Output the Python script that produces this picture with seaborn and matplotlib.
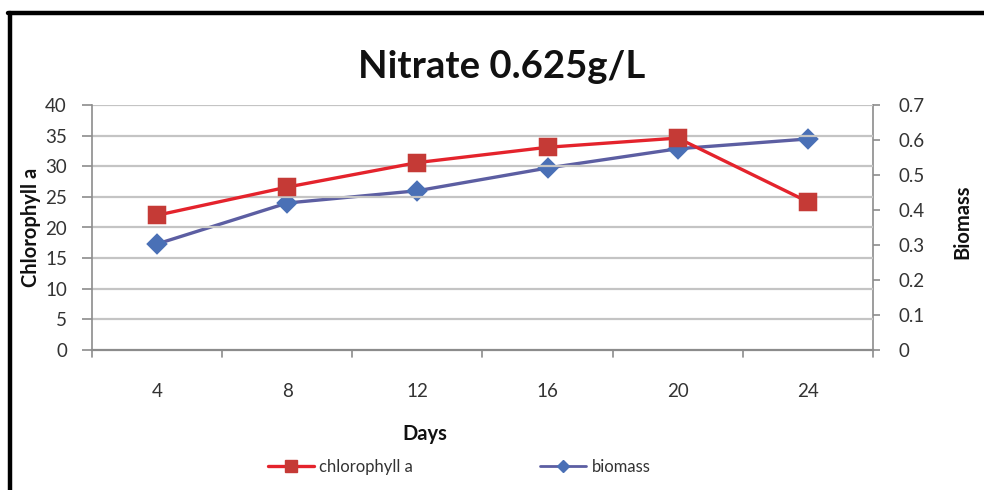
import matplotlib
matplotlib.use("Agg")
import matplotlib.pyplot as plt
from matplotlib.lines import Line2D
import seaborn as sns
import pandas as pd

days = ["4", "8", "12", "16", "20", "24"]
chlorophyll = [22.0, 26.6, 30.6, 33.1, 34.6, 24.2]
biomass = [0.303, 0.420, 0.455, 0.520, 0.575, 0.603]
left_ticks = [0, 5, 10, 15, 20, 25, 30, 35, 40]
right_ticks = [0, 0.1, 0.2, 0.3, 0.4, 0.5, 0.6, 0.7]
right_labels = ["0", "0.1", "0.2", "0.3", "0.4", "0.5", "0.6", "0.7"]

sns.set_theme(style="white")
plt.rcParams["font.family"] = ["Lato", "DejaVu Sans"]

df = pd.DataFrame({"Days": days, "chlorophyll a": chlorophyll, "biomass": biomass})

RED_LINE = "#e4232c"
RED_MARK = "#c53a36"
BLUE_LINE = "#5c5ea2"
BLUE_MARK = "#4a70b6"
AXIS = "#8c8c8c"
GRID = "#c4c4c4"
TXT = "#333333"

fig = plt.figure(figsize=(9.84, 4.9), dpi=100)
fig.patch.set_facecolor("white")
ax = fig.add_axes([92 / 984, 1 - 350 / 490, (873 - 92) / 984, (350 - 105) / 490])
ax2 = ax.twinx()

sns.pointplot(data=df, x="Days", y="chlorophyll a", order=days, ax=ax,
              color=RED_LINE, markers="s", linestyles="-", errorbar=None,
              markersize=12, linewidth=2.4, zorder=3)
for ln in ax.lines:
    ln.set_markerfacecolor(RED_MARK)
    ln.set_markeredgecolor(RED_MARK)

sns.pointplot(data=df, x="Days", y="biomass", order=days, ax=ax2,
              color=BLUE_LINE, markers="D", linestyles="-", errorbar=None,
              markersize=9, linewidth=2.4, zorder=3)
for ln in ax2.lines:
    ln.set_markerfacecolor(BLUE_MARK)
    ln.set_markeredgecolor(BLUE_MARK)

ax.set_zorder(2)
ax.patch.set_visible(False)
ax2.set_zorder(1)

ax.set_xlim(-0.5, len(days) - 0.5)
ax.set_ylim(0, 40)
ax2.set_ylim(0, 0.7)
ax.set_yticks(left_ticks)
ax.set_yticklabels([str(t) for t in left_ticks])
ax2.set_yticks(right_ticks)
ax2.set_yticklabels(right_labels)

# gridlines drawn on the left-axis scale
ax.grid(False)
ax2.grid(False)
for t in left_ticks[1:]:
    ax.axhline(t, color=GRID, lw=1.6, zorder=0)

# category boundary ticks along the x-axis
ax.set_xticks(range(len(days)))
ax.set_xticklabels(days)
ax.tick_params(axis="x", length=0, pad=24, labelsize=13.5, labelcolor=TXT)
for b in [i - 0.5 for i in range(len(days) + 1)]:
    ax.plot([b, b], [0, -1.1], color=AXIS, lw=1.2, clip_on=False, zorder=1)

ax.tick_params(axis="y", direction="out", length=7, width=1.2, color=AXIS,
               pad=11, labelsize=13.5, labelcolor=TXT, left=True)
ax2.tick_params(axis="y", direction="out", length=5, width=1.2, color=AXIS,
                pad=13, labelsize=13.5, labelcolor=TXT, right=True)

for a in (ax, ax2):
    for s in a.spines.values():
        s.set_visible(False)
ax.spines["left"].set_visible(True)
ax.spines["left"].set_color(AXIS)
ax.spines["left"].set_linewidth(1.2)
ax.spines["bottom"].set_visible(True)
ax.spines["bottom"].set_color(AXIS)
ax.spines["bottom"].set_linewidth(1.6)
ax2.spines["right"].set_visible(True)
ax2.spines["right"].set_color(AXIS)
ax2.spines["right"].set_linewidth(1.2)

ax.set_xlabel("")
ax.set_ylabel("")
ax2.set_ylabel("")

fig.text(502 / 984, 1 - 67 / 490, "Nitrate 0.625g/L", ha="center", va="center",
         fontsize=27.5, fontweight="bold", color="#111111")
fig.text(31 / 984, 1 - 227 / 490, "Chlorophyll a", rotation=90, ha="center",
         va="center", fontsize=14.5, fontweight="bold", color="#111111")
fig.text(962 / 984, 1 - 222 / 490, "Biomass", rotation=90, ha="center",
         va="center", fontsize=14.5, fontweight="bold", color="#111111")
fig.text(425 / 984, 1 - 434 / 490, "Days", ha="center", va="center",
         fontsize=14.5, fontweight="bold", color="#111111")

handles = [
    Line2D([], [], color=RED_LINE, lw=2.4, marker="s", markersize=9,
           markerfacecolor=RED_MARK, markeredgecolor=RED_MARK),
    Line2D([], [], color=BLUE_LINE, lw=2.0, marker="D", markersize=6,
           markerfacecolor=BLUE_MARK, markeredgecolor=BLUE_MARK),
]
fig.legend(handles, ["chlorophyll a", "biomass"], loc="center",
           bbox_to_anchor=(459 / 984, 1 - 467 / 490), ncol=2, frameon=False,
           fontsize=12, handlelength=2.8, handletextpad=0.3,
           columnspacing=7.6, labelcolor=TXT)

# outer frame (top and left edges)
fig.add_artist(Line2D([8 / 984, 1.0], [1 - 13 / 490, 1 - 13 / 490],
                      color="black", lw=3.2, transform=fig.transFigure))
fig.add_artist(Line2D([10 / 984, 10 / 984], [0.0, 1 - 13 / 490],
                      color="black", lw=3.2, transform=fig.transFigure))

fig.savefig("out.png", dpi=100, facecolor="white")
